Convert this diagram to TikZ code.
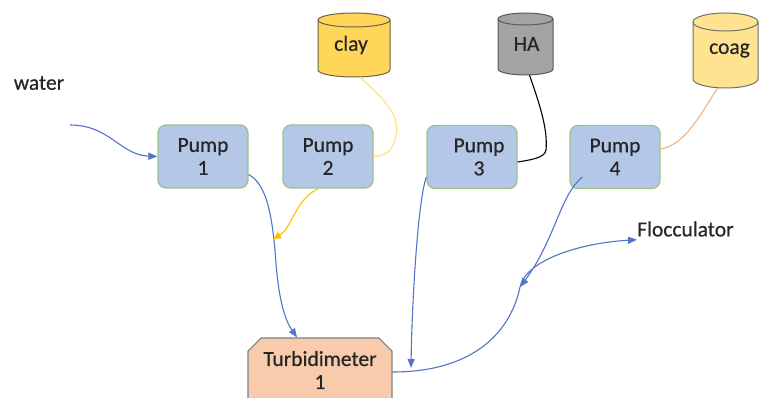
\documentclass[tikz,border=0pt]{standalone}
\usepackage{fontspec}
\setmainfont{Carlito}
\newfontfamily\lblfont{Carlito}[FakeBold=0.5]
\usetikzlibrary{arrows.meta,shapes.misc}
\definecolor{pumpfill}{HTML}{B4C7E7}
\definecolor{pumpdraw}{HTML}{9BC38A}
\definecolor{turbfill}{HTML}{F8CBAD}
\definecolor{turbdraw}{HTML}{7F7F7F}
\definecolor{clayfill}{HTML}{FFD55A}
\definecolor{claydraw}{HTML}{6E6242}
\definecolor{hafill}{HTML}{A3A3A3}
\definecolor{hadraw}{HTML}{5A5A5A}
\definecolor{coagfill}{HTML}{FFE391}
\definecolor{coagdraw}{HTML}{6F6F6F}
\definecolor{flow}{HTML}{5275C6}
\definecolor{clayline}{HTML}{FFDF7F}
\definecolor{yelline}{HTML}{FFC000}
\definecolor{coagline}{HTML}{F4B183}
\definecolor{txt}{HTML}{262626}
\newcommand{\lbl}{\lblfont\fontsize{21.5}{23}\selectfont}
\newcommand{\drawcyl}[8]{%
  \filldraw[fill=#7,draw=#8,line width=1pt]
    (#1,#2+#6) -- (#1,#4-#6) arc[start angle=180,end angle=360,x radius=#5pt,y radius=#6pt]
    -- (#3,#2+#6) arc[start angle=0,end angle=180,x radius=#5pt,y radius=#6pt] -- cycle;
  \draw[draw=#8,line width=1pt] (#1,#2+#6) arc[start angle=180,end angle=360,x radius=#5pt,y radius=#6pt];
}
\begin{document}
\begin{tikzpicture}[x=1pt,y=-1pt,
  pumpbox/.style={draw=pumpdraw,fill=pumpfill,rounded corners=8pt,line width=1.3pt,
    minimum width=90pt,minimum height=63pt,align=center,font=\lbl,text=txt,inner sep=0pt},
  turbbox/.style={draw=turbdraw,fill=turbfill,line width=1.1pt,chamfered rectangle,
    chamfered rectangle corners={north west,north east},chamfered rectangle xsep=10pt,
    minimum width=144pt,minimum height=64pt,align=center,font=\lbl,text=txt,inner sep=0pt},
  cylnode/.style={inner sep=0pt,font=\lbl,text=txt},
  plain/.style={font=\lbl,text=txt,inner sep=0pt},
  flowline/.style={draw=flow,line width=1.1pt},
  tip/.style={-{Triangle[length=9pt,width=7pt]}}
]
\clip (0,0) rectangle (760,398);
\fill[white] (0,0) rectangle (760,398);

% cylinders
\drawcyl{318}{13}{390}{77}{36}{7}{clayfill}{claydraw}
\drawcyl{498}{13}{553}{75}{27.5}{6}{hafill}{hadraw}
\drawcyl{693}{13}{758}{88}{32.5}{9}{coagfill}{coagdraw}
\node[cylnode,minimum width=72pt,minimum height=64pt] (clay) at (354,45) {\raisebox{-3pt}{clay\hspace*{6pt}}};
\node[cylnode,minimum width=55pt,minimum height=62pt] (HA) at (525.5,44) {\raisebox{-5pt}{\hspace*{2pt}HA}};
\node[cylnode,minimum width=65pt,minimum height=75pt] (coag) at (725.5,50.5) {\raisebox{-3pt}{\hspace*{8pt}coag}};

% pumps
\node[pumpbox] (p1) at (203,156.5) {Pump\\1};
\node[pumpbox] (p2) at (328,156.5) {Pump\\2};
\node[pumpbox] (p3) at (472,157) {\hspace*{14pt}Pump\\\hspace*{14pt}3};
\node[pumpbox] (p4) at (615,157) {Pump\\4};

% turbidimeter
\node[turbbox] (turb) at (320,370) {Turbidimeter\\1};

% labels
\node[plain] (water) at (39,83) {water};
\node[plain,anchor=west] (floc) at (637,229) {Flocculator};

% junction coordinates
\coordinate (win) at (70,125);
\coordinate (j1) at (273,239);
\coordinate (j2) at (411,368);
\coordinate (j3) at (520,287);

% supply lines
\draw[draw=clayline,line width=1.1pt] ([xshift=6pt]clay.south) .. controls (385,100) and (400,115) .. (396,135)
  .. controls (393,152) and (385,156) .. (p2.east);
\draw[draw=black,line width=1.1pt] ([xshift=4pt]HA.south) .. controls (540,105) and (548,130) .. (546,150)
  .. controls (545,158) and (530,160) .. ([yshift=-5pt]p3.east);
\draw[draw=coagline,line width=1.1pt] ([xshift=-8pt]coag.south) .. controls (700,115) and (685,145) .. ([yshift=8pt]p4.east);

% flow lines
\draw[flowline,tip] (win) .. controls (110,125) and (120,155) .. (p1.west);
\draw[flowline,tip] ([yshift=-18pt]p1.east) .. controls (268,185) and (272,220) .. (275,250)
  .. controls (278,300) and (285,320) .. ([xshift=-23pt]turb.north);
\draw[draw=yelline,line width=1.1pt,-{Triangle[length=8pt,width=7pt]}] ([xshift=-10pt]p2.south)
  .. controls (295,200) and (292,228) .. (j1);
\draw[flowline,tip] ([yshift=-20pt]p3.west) .. controls (418,200) and (412,300) .. (j2);
\draw[flowline,tip] ([yshift=-2pt]turb.east) .. controls (470,372) and (510,335) .. (j3)
  .. controls (526,260) and (580,243) .. ([yshift=-3pt]floc.south west);
\draw[flowline,tip] ([xshift=13pt,yshift=-20pt]p4.west) .. controls (560,195) and (555,240) .. (j3);
\end{tikzpicture}
\end{document}
